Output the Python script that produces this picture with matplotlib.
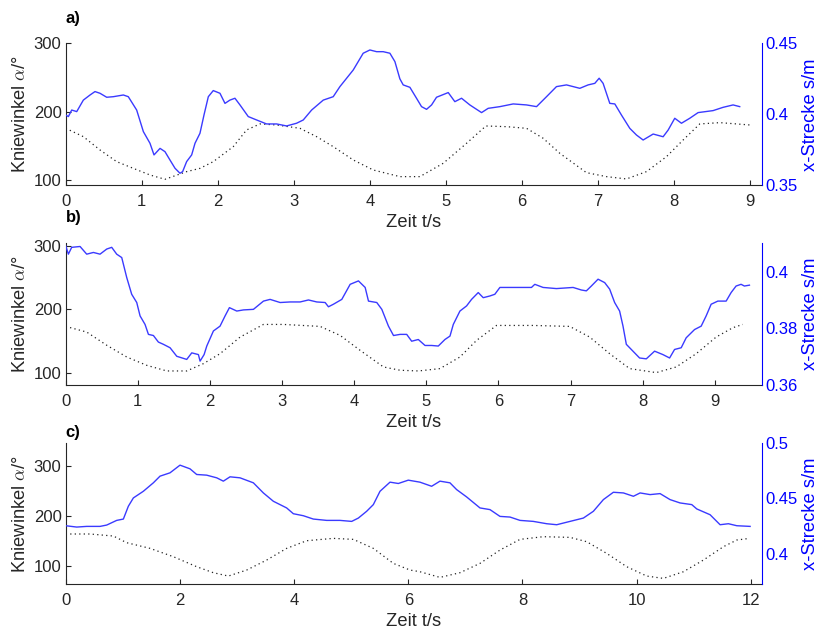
import matplotlib
matplotlib.use('Agg')
import matplotlib.pyplot as plt

plt.rcParams['font.family'] = ['Liberation Sans', 'DejaVu Sans']
plt.rcParams['mathtext.fontset'] = 'cm'

# ---------------- data ----------------
# panel a
ta_blue = [0, 0.035, 0.079, 0.145, 0.232, 0.32, 0.385, 0.451, 0.539, 0.626, 0.758, 0.823, 0.933,
           1.021, 1.108, 1.161, 1.24, 1.305, 1.371, 1.437, 1.502, 1.537, 1.59, 1.656, 1.7, 1.765,
           1.818, 1.875, 1.94, 2.028, 2.094, 2.159, 2.225, 2.291, 2.4, 2.51, 2.641, 2.773, 2.904,
           3.035, 3.123, 3.233, 3.386, 3.517, 3.605, 3.78, 3.911, 3.999, 4.087, 4.174, 4.262, 4.328,
           4.393, 4.437, 4.525, 4.612, 4.678, 4.744, 4.81, 4.875, 5.029, 5.116, 5.204, 5.313, 5.467,
           5.554, 5.708, 5.883, 6.058, 6.19, 6.321, 6.452, 6.584, 6.759, 6.868, 6.956, 7.013, 7.065,
           7.153, 7.219, 7.306, 7.416, 7.504, 7.591, 7.723, 7.854, 7.92, 8.007, 8.095, 8.204, 8.314,
           8.511, 8.642, 8.774, 8.861]
xa_blue = [0.3995, 0.3984, 0.403, 0.4019, 0.410, 0.4136, 0.416, 0.4148, 0.412, 0.4124, 0.4136, 0.4124,
           0.403, 0.3878, 0.3796, 0.3714, 0.376, 0.3737, 0.3678, 0.362, 0.3585, 0.3596, 0.3667, 0.3714,
           0.3796, 0.3866, 0.3995, 0.4124, 0.4167, 0.4148, 0.4077, 0.410, 0.4113, 0.4066, 0.3984, 0.396,
           0.3932, 0.3932, 0.3918, 0.3937, 0.396, 0.403, 0.410, 0.4124, 0.4195, 0.4312, 0.443, 0.4453,
           0.4441, 0.4441, 0.443, 0.4371, 0.425, 0.4207, 0.419, 0.4113, 0.4054, 0.4035, 0.4066, 0.412,
           0.4153, 0.4089, 0.4113, 0.4066, 0.4012, 0.4042, 0.4054, 0.4073, 0.4066, 0.4054, 0.4124, 0.4195,
           0.4207, 0.4183, 0.4207, 0.4218, 0.4254, 0.4218, 0.4077, 0.4073, 0.3995, 0.3901, 0.3854, 0.3819,
           0.3861, 0.3842, 0.3889, 0.3972, 0.3937, 0.3972, 0.4012, 0.4026, 0.4049, 0.4066, 0.4054]
ta_knee = [0, 0.232, 0.451, 0.67, 0.889, 1.108, 1.305, 1.59, 1.765, 1.94, 2.203, 2.378, 2.554, 2.773,
           3.079, 3.298, 3.517, 3.78, 4.043, 4.393, 4.656, 4.963, 5.27, 5.524, 5.795, 6.058, 6.277,
           6.496, 6.846, 7.109, 7.372, 7.635, 7.898, 8.117, 8.336, 8.6, 8.993]
ka_knee = [175.6, 163.4, 143.9, 126.8, 117, 107.3, 101, 112.2, 117, 126.8, 148.8, 173.2, 182, 180.5,
           175.6, 163.4, 148.8, 129.3, 114.6, 104.9, 104.9, 124.4, 153.7, 179, 178, 175.6, 161,
           139, 110.7, 104.9, 101.5, 112.2, 134.1, 158.5, 182, 183.9, 180.5]

# panel b
tb_blue = [0, 0.037, 0.083, 0.199, 0.291, 0.384, 0.476, 0.569, 0.638, 0.707, 0.777, 0.846, 0.915,
           0.985, 1.031, 1.1, 1.147, 1.216, 1.285, 1.355, 1.447, 1.54, 1.678, 1.748, 1.84, 1.863,
           1.919, 1.956, 2.048, 2.14, 2.21, 2.27, 2.372, 2.464, 2.603, 2.742, 2.834, 2.973, 3.111,
           3.25, 3.366, 3.481, 3.597, 3.643, 3.712, 3.828, 3.944, 4.059, 4.152, 4.198, 4.313, 4.383,
           4.475, 4.545,
           4.637, 4.728, 4.797, 4.889, 4.982, 5.074, 5.166, 5.258, 5.328, 5.374, 5.466, 5.558, 5.627,
           5.72, 5.789, 5.881, 5.95, 6.02, 6.25, 6.458, 6.504, 6.619, 6.804, 7.035, 7.15, 7.219, 7.288,
           7.381, 7.473, 7.542, 7.611, 7.68, 7.727, 7.773, 7.865, 7.957, 8.05, 8.165, 8.28, 8.373,
           8.442, 8.534, 8.603, 8.719, 8.811, 8.88, 8.949, 9.042, 9.157, 9.226, 9.295, 9.364, 9.41, 9.48]
xb_blue = [0.4091, 0.4061, 0.4085, 0.4088, 0.4061, 0.4067, 0.4061, 0.4079, 0.4085, 0.4061, 0.4049,
           0.3979, 0.392, 0.3891, 0.3844, 0.3814, 0.3779, 0.3775, 0.3752, 0.3744, 0.3732, 0.3702,
           0.3691, 0.3714, 0.3708, 0.3685, 0.3708, 0.3738, 0.3791, 0.3808, 0.3844, 0.3873, 0.3861,
           0.3865, 0.3867, 0.3896, 0.3902, 0.3891, 0.3893, 0.3893, 0.39, 0.3893, 0.3891, 0.3876,
           0.3885, 0.3902, 0.3955, 0.3967, 0.3944, 0.3896, 0.3891, 0.3867, 0.3808, 0.3775,
           0.3779, 0.3779, 0.3755, 0.3761, 0.374, 0.374, 0.3738, 0.3761, 0.3773, 0.3814, 0.3861,
           0.3879, 0.3902, 0.3926, 0.3908, 0.3914, 0.392, 0.3944, 0.3944, 0.3944, 0.3955, 0.3944,
           0.394, 0.3944, 0.3935, 0.3932, 0.3949, 0.3973, 0.3961, 0.3938, 0.3891, 0.3861, 0.3808,
           0.3744, 0.372, 0.3696, 0.3693, 0.372, 0.3708, 0.3696, 0.3726, 0.3732, 0.3767, 0.3796,
           0.3808, 0.3844, 0.3885, 0.3896, 0.3896, 0.3926, 0.3949, 0.3955, 0.3949, 0.3952]
tb_knee = [0, 0.291, 0.569, 0.846, 1.123, 1.401, 1.678, 1.909, 2.14, 2.418, 2.742, 3.019, 3.527,
           3.805, 4.082, 4.406, 4.636, 4.891, 5.189, 5.466, 5.697, 5.973, 6.481, 6.988, 7.265,
           7.542, 7.819, 8.188, 8.465, 8.742, 9.018, 9.249, 9.387]
kb_knee = [172.8, 163.9, 143.1, 124.6, 111.5, 102.6, 102.6, 114.1, 129.8, 156, 175.9, 175.9, 172.8,
           158.6, 135.1, 108.9, 103.7, 102.6, 106.3, 124.6, 150.8, 174.3, 174.3, 172.8, 156,
           129.8, 106.3, 100, 108.9, 129.8, 156, 170.7, 175.9]

# panel c
tc_blue = [0, 0.193, 0.368, 0.601, 0.718, 0.893, 1.01, 1.097, 1.185, 1.36, 1.535, 1.652, 1.827,
           2.002, 2.177, 2.294, 2.469, 2.645, 2.761, 2.878, 3.053, 3.287, 3.462, 3.637, 3.87, 3.987,
           4.162, 4.337, 4.571, 4.804, 5.009, 5.126, 5.271, 5.388, 5.505, 5.68, 5.826, 6.0, 6.204,
           6.409, 6.555, 6.73, 6.847, 7.022, 7.256, 7.431, 7.606, 7.782, 7.957, 8.19, 8.424, 8.6,
           8.833, 9.067, 9.242, 9.417, 9.592, 9.768, 9.943, 10.06, 10.235, 10.41, 10.585, 10.76,
           10.965, 11.053, 11.286, 11.461, 11.607, 11.754, 11.987]
xc_blue = [0.4253, 0.4241, 0.4247, 0.4247, 0.4259, 0.4301, 0.4313, 0.4428, 0.4503, 0.4563, 0.4639,
           0.4699, 0.4729, 0.4798, 0.4765, 0.4714, 0.4708, 0.4684, 0.4654, 0.4693, 0.4684, 0.4639,
           0.4548, 0.4473, 0.4413, 0.4361, 0.4343, 0.4313, 0.4301, 0.4301, 0.4292, 0.4322, 0.4383,
           0.4443, 0.4563, 0.4645, 0.4633, 0.4663, 0.4645, 0.4608, 0.4654, 0.4639, 0.4578, 0.4512,
           0.4413, 0.4398, 0.4337, 0.4331, 0.4301, 0.4292, 0.4271, 0.4262, 0.4292, 0.4322, 0.4383,
           0.4488, 0.4554, 0.4548, 0.4518, 0.4548, 0.4533, 0.4542, 0.4488, 0.4458, 0.4443, 0.4404,
           0.4352, 0.4262, 0.4271, 0.4253, 0.4247]
tc_knee = [0, 0.426, 0.835, 1.068, 1.477, 1.886, 2.294, 2.586, 2.849, 3.17, 3.52, 3.87, 4.221, 4.688,
           5.038, 5.388, 5.738, 6.03, 6.204, 6.555, 6.905, 7.256, 7.606, 7.957, 8.366, 8.833, 9.125,
           9.475, 9.826, 10.176, 10.468, 10.819, 11.169, 11.52, 11.754, 11.98]
kc_knee = [163.8, 163.8, 159.7, 146.3, 134.9, 118.1, 98, 85.9, 79.2, 91.3, 111.4, 134.9, 150.3, 155,
           153, 134.9, 104.7, 91.3, 87.9, 76.5, 85.9, 104.7, 131.5, 153, 158.4, 157, 148.3,
           124.8, 98, 79.2, 74.5, 87.9, 111.4, 138.3, 151.7, 155]

letters = ['a)', 'b)', 'c)']
xticks_list = [list(range(0, 10)), list(range(0, 10)), list(range(0, 13, 2))]
left_ticks = [100, 200, 300]
right_ticks_list = [[0.35, 0.4, 0.45], [0.36, 0.38, 0.4], [0.4, 0.45, 0.5]]
right_labels_list = [['0.35', '0.4', '0.45'], ['0.36', '0.38', '0.4'], ['0.4', '0.45', '0.5']]

# ---------------- figure ----------------
W, H = 822, 631
fig = plt.figure(figsize=(W / 100, H / 100), dpi=100)
GRAY = '#262626'
BLUE = '#0000ff'
LINEBLUE = '#3a3aff'
TICK_FS = 12
LABEL_FS = 13.2

panels = [
    dict(tb=ta_blue, xb=xa_blue, tk=ta_knee, kk=ka_knee, xlim=(0, 9.15), yl=(92.2, 300), yr=(0.35, 0.45),
         top=43.3, bottom=185.3, ly=18),
    dict(tb=tb_blue, xb=xb_blue, tk=tb_knee, kk=kb_knee, xlim=(0, 9.65), yl=(80, 305), yr=(0.36, 0.4102),
         top=242.5, bottom=385.3, ly=218),
    dict(tb=tc_blue, xb=xc_blue, tk=tc_knee, kk=kc_knee, xlim=(0, 12.19), yl=(62.6, 347.5), yr=(0.3726, 0.5),
         top=442.7, bottom=584.3, ly=432),
]

left_px, right_px = 65.7, 761.7
for i, p in enumerate(panels):
    rect = [left_px / W, 1 - p['bottom'] / H, (right_px - left_px) / W, (p['bottom'] - p['top']) / H]
    ax = fig.add_axes(rect)
    ax.plot(p['tk'], p['kk'], color='#222222', lw=0.9, ls=(0, (1, 2.6)))
    ax.set_xlim(p['xlim'])
    ax.set_ylim(p['yl'])
    ax.set_xticks(xticks_list[i])
    ax.set_yticks(left_ticks)
    for s in ['top', 'right']:
        ax.spines[s].set_visible(False)
    for s in ['left', 'bottom']:
        ax.spines[s].set_color(GRAY)
        ax.spines[s].set_linewidth(0.8)
    ax.tick_params(axis='both', direction='in', length=3.8, width=0.8, color=GRAY,
                   labelcolor=GRAY, labelsize=TICK_FS)
    ax.tick_params(axis='x', pad=6)
    ax.tick_params(axis='y', pad=3)
    ax.set_xlabel('Zeit t/s', fontsize=LABEL_FS, color=GRAY, labelpad=4)
    ax.set_ylabel(r'Kniewinkel $\alpha$/°', fontsize=LABEL_FS, color=GRAY, labelpad=3)

    ax2 = ax.twinx()
    ax2.plot(p['tb'], p['xb'], color=LINEBLUE, lw=1.0)
    ax2.set_ylim(p['yr'])
    ax2.set_yticks(right_ticks_list[i])
    ax2.set_yticklabels(right_labels_list[i])
    for s in ['top', 'left', 'bottom']:
        ax2.spines[s].set_visible(False)
    ax2.spines['right'].set_color(BLUE)
    ax2.spines['right'].set_linewidth(0.8)
    ax2.tick_params(axis='y', direction='in', length=0, colors=BLUE, labelsize=TICK_FS, pad=3)
    ax2.set_ylabel('x-Strecke s/m', fontsize=LABEL_FS, color=BLUE, labelpad=3)

    fig.text(left_px / W, 1 - p['ly'] / H, letters[i], fontsize=TICK_FS, fontweight='bold',
             color='black', ha='left', va='center')

fig.savefig('out.png', dpi=100)
